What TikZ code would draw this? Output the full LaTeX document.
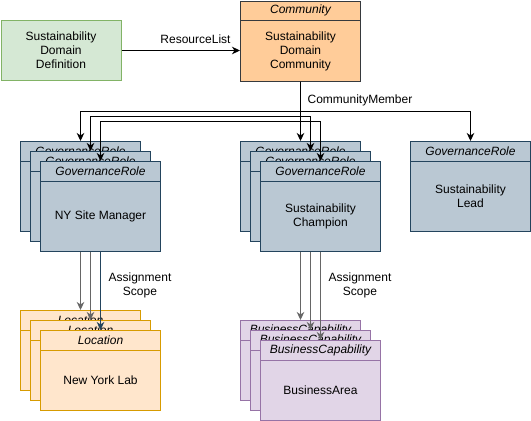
\documentclass[tikz,border=0pt]{standalone}
\usepackage{fontspec}
\setmainfont{Liberation Sans}
\usetikzlibrary{calc,arrows.meta}

\definecolor{greenfill}{HTML}{D5E8D4}
\definecolor{greenline}{HTML}{82B366}
\definecolor{commfill}{HTML}{FFCC99}
\definecolor{commline}{HTML}{36393D}
\definecolor{rolefill}{HTML}{BAC8D3}
\definecolor{roleline}{HTML}{23445D}
\definecolor{locfill}{HTML}{FFE6CC}
\definecolor{locline}{HTML}{D79B00}
\definecolor{capfill}{HTML}{E1D5E7}
\definecolor{capline}{HTML}{9673A6}
\definecolor{edgegray}{HTML}{666666}

\tikzset{
  box/.style={line width=1pt, inner sep=0pt, anchor=north west},
  txt/.style={font=\fontsize{12}{14}\selectfont, align=center, inner sep=0pt},
  link/.style={line width=1pt, -{Stealth[length=8pt,width=7.5pt,inset=2.5pt]}},
}
\def\umlbox[#1](#2)(#3,#4)(#5:#6)#7#8{%
  \node[box, #1, minimum width=#5pt, minimum height=#6pt] (#2) at (#3,#4) {};
  \draw[line width=1pt, #1, fill=none] ($(#2.north west)+(0,20)$) -- ($(#2.north east)+(0,20)$);
  \node[txt, font=\fontsize{12}{14}\selectfont\itshape] (#2-head) at ($(#2.north)+(0,10)$) {#7};
  \node[txt] (#2-body) at ($(#2.center)+(0,10)$) {#8};
}

\begin{document}
\begin{tikzpicture}[x=1pt, y=-1pt]
		%%%%% START %%%%%
		\useasboundingbox (0,0) rectangle (531,421);
		
		\node[box, txt, draw=greenline, fill=greenfill, minimum width=120pt, minimum height=60pt] (def) at (0.5,20) {Sustainability\\Domain\\Definition};
		\umlbox[draw=commline, fill=commfill](comm)(240,0.5)(120:80){Community}{Sustainability\\Domain\\Community}
		
		\umlbox[draw=roleline, fill=rolefill](roleA1)(20,141)(120:90){GovernanceRole}{}
		\umlbox[draw=roleline, fill=rolefill](roleA2)(30,151)(120:90){GovernanceRole}{}
		\umlbox[draw=roleline, fill=rolefill](roleA3)(40,161)(120:90){GovernanceRole}{NY Site Manager}
		
		\umlbox[draw=roleline, fill=rolefill](roleB1)(240,141)(120:90){GovernanceRole}{}
		\umlbox[draw=roleline, fill=rolefill](roleB2)(250,151)(120:90){GovernanceRole}{}
		\umlbox[draw=roleline, fill=rolefill](roleB3)(260,161)(120:90){GovernanceRole}{Sustainability\\Champion}
		
		\umlbox[draw=roleline, fill=rolefill](lead)(410,141)(120:90){GovernanceRole}{Sustainability\\Lead}
		
		\umlbox[draw=locline, fill=locfill](locA1)(20,310)(120:80){Location}{}
		\umlbox[draw=locline, fill=locfill](locA2)(30,320)(120:80){Location}{}
		\umlbox[draw=locline, fill=locfill](locA3)(40,330)(120:80){Location}{New York Lab}
		
		\umlbox[draw=capline, fill=capfill](capB1)(240,320)(120:80){BusinessCapability}{}
		\umlbox[draw=capline, fill=capfill](capB2)(250,330)(120:80){BusinessCapability}{}
		\umlbox[draw=capline, fill=capfill](capB3)(260,340)(120:80){BusinessCapability}{BusinessArea}
		
		% connectors
		\draw[link] (def.east) -- (def.east -| comm.west);
		\node[txt] (resLabel) at (195.5,39.5) {ResourceList};
		
		\coordinate (bendA) at (0,111.5);
		\coordinate (bendB) at (0,116);
		\coordinate (bendC) at (0,121);
		\draw[link] (comm.south) -- (comm.south |- bendA) -| (roleA1.north);
		\draw[link] (comm.south) -- (comm.south |- bendB) -| (roleA2.north);
		\draw[link] (comm.south) -- (comm.south |- bendC) -| (roleA3.north);
		\draw[link] (comm.south) -- (roleB1.north);
		\draw[link] (comm.south) -- (comm.south |- bendB) -| (roleB2.north);
		\draw[link] (comm.south) -- (comm.south |- bendC) -| (roleB3.north);
		\draw[link] (comm.south) -- (comm.south |- bendA) -| (lead.north);
		\node[txt] (memLabel) at (360,100) {CommunityMember};
		
		\draw[link, draw=edgegray] (roleA3.south -| locA1.north) -- (locA1.north);
		\draw[link, draw=edgegray] (roleA3.south -| locA2.north) -- (locA2.north);
		\draw[link, draw=roleline] (roleA3.south -| locA3.north) -- (locA3.north);
		\node[txt] (scopeA) at (140,285) {Assignment\\Scope};
		
		\draw[link, draw=edgegray] (roleB3.south -| capB1.north) -- (capB1.north);
		\draw[link, draw=edgegray] (roleB3.south -| capB2.north) -- (capB2.north);
		\draw[link, draw=edgegray] (roleB3.south -| capB3.north) -- (capB3.north);
		\node[txt] (scopeB) at (360,285) {Assignment\\Scope};
		
		%%%%% END %%%%%
\end{tikzpicture}
\end{document}
